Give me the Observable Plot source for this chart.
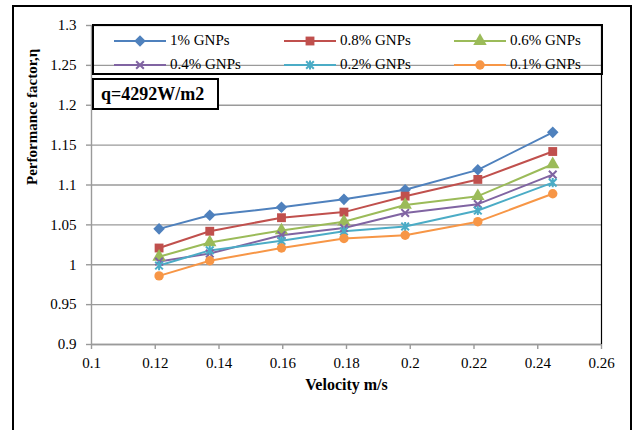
<!DOCTYPE html>
<html>
<head>
<meta charset="utf-8">
<script src="https://cdn.jsdelivr.net/npm/d3@7"></script>
<script src="https://cdn.jsdelivr.net/npm/@observablehq/plot@0.6"></script>
<style>
  html, body { margin: 0; padding: 0; background: #fff; overflow: hidden; }
  #wrap { position: relative; width: 633px; height: 430px; overflow: hidden; font-family: "Liberation Serif", "Times New Roman", serif; }
  #frame { position: absolute; left: 12px; top: 5px; width: 620px; height: 500px; border: 2px solid #000; box-sizing: border-box; pointer-events: none; }
  #legend { position: absolute; left: 92px; top: 24px; width: 511px; height: 51px; border: 2px solid #000; box-sizing: border-box; }
  .li { position: absolute; height: 16px; }
  .li svg { position: absolute; left: 0; top: 0; }
  .li span { position: absolute; top: -1px; font-size: 15px; white-space: nowrap; line-height: 16px; color: #000; font-family: "Liberation Serif", serif; }
  #qbox { position: absolute; left: 92px; top: 78px; width: 127px; height: 32px; border: 2px solid #000; box-sizing: border-box; background: #fff; font-weight: bold; font-size: 18px; line-height: 28px; padding-left: 7px; font-family: "Liberation Serif", serif; }
</style>
</head>
<body>
<div id="wrap"></div>
<script>
// ---- data ----
const velocity = [0.1212, 0.1371, 0.1596, 0.1792, 0.1984, 0.2212, 0.2447];
const seriesNames = ["1% GNPs", "0.8% GNPs", "0.6% GNPs", "0.4% GNPs", "0.2% GNPs", "0.1% GNPs"];
const gnp1  = [1.045, 1.062, 1.072, 1.082, 1.094, 1.119, 1.166];
const gnp08 = [1.021, 1.042, 1.059, 1.066, 1.086, 1.107, 1.142];
const gnp06 = [1.010, 1.028, 1.043, 1.054, 1.075, 1.086, 1.126];
const gnp04 = [1.004, 1.014, 1.037, 1.046, 1.065, 1.076, 1.113];
const gnp02 = [0.999, 1.018, 1.030, 1.042, 1.048, 1.068, 1.103];
const gnp01 = [0.986, 1.005, 1.021, 1.033, 1.037, 1.054, 1.089];
const seriesValues = [gnp1, gnp08, gnp06, gnp04, gnp02, gnp01];
const xTicks = [0.1, 0.12, 0.14, 0.16, 0.18, 0.2, 0.22, 0.24, 0.26];
const yTicks = [0.9, 0.95, 1, 1.05, 1.1, 1.15, 1.2, 1.25, 1.3];
const colors = ["#4F81BD", "#C0504D", "#9BBB59", "#8064A2", "#4BACC6", "#F79646"];
const annotation = "q=4292W/m2";
const xLabel = "Velocity m/s";
const yLabel = "Performance factor,η";

// ---- build ----
const data = seriesNames.flatMap((s, i) => velocity.map((v, j) => ({series: s, x: v, y: seriesValues[i][j]})));

const asterisk = {
  draw(ctx, size) {
    const r = Math.sqrt(size) * 0.45;
    ctx.moveTo(-r, -r); ctx.lineTo(r, r);
    ctx.moveTo(-r, r); ctx.lineTo(r, -r);
    ctx.moveTo(0, -r * 1.2); ctx.lineTo(0, r * 1.2);
  }
};
const timesSym = {
  draw(ctx, size) {
    const r = Math.sqrt(size) * 0.45;
    ctx.moveTo(-r, -r); ctx.lineTo(r, r);
    ctx.moveTo(-r, r); ctx.lineTo(r, -r);
  }
};
const symbols = [d3.symbolDiamond2, d3.symbolSquare, d3.symbolTriangle, timesSym, asterisk, d3.symbolCircle];
const filled = [true, true, true, false, false, true];
const rad = [5.2, 5, 5, 4.8, 4.8, 4.7];

const fmt = d => String(+d.toFixed(2));

const dotMarks = seriesNames.map((s, i) => Plot.dot(data.filter(d => d.series === s), {
  x: "x", y: "y", symbol: () => symbols[i], r: rad[i],
  fill: filled[i] ? colors[i] : "none",
  stroke: filled[i] ? "none" : colors[i],
  strokeWidth: filled[i] ? 0 : 2
}));

const chart = Plot.plot({
  width: 633, height: 430,
  marginTop: 25, marginRight: 32, marginBottom: 86, marginLeft: 91,
  style: {fontFamily: "'Liberation Serif', 'Times New Roman', serif", fontSize: "15px", color: "#000", background: "transparent", overflow: "visible"},
  x: {domain: [0.1, 0.26]},
  y: {domain: [0.9, 1.3]},
  symbol: {domain: seriesNames, range: symbols},
  marks: [
    Plot.gridY(yTicks, {stroke: "#9a9a9a", strokeOpacity: 1, strokeWidth: 1.4}),
    Plot.ruleX([0.26], {stroke: "#000", strokeWidth: 1.2}),
    Plot.axisY(yTicks, {tickSize: 5, tickPadding: 10, tickFormat: fmt, stroke: "#9a9a9a", strokeWidth: 1.4, label: null, fontSize: 15}),
    Plot.axisX(xTicks, {tickSize: 5, tickPadding: 8, tickFormat: fmt, stroke: "#9a9a9a", strokeWidth: 1.4, label: null, fontSize: 15}),
    Plot.ruleX([0.1], {stroke: "#9a9a9a", strokeWidth: 1.4}),
    Plot.ruleY([0.9], {stroke: "#9a9a9a", strokeWidth: 1.4}),
    Plot.text([xLabel], {frameAnchor: "bottom", dy: 45, fontWeight: "bold", fontSize: 16, fill: "#000"}),
    Plot.text([yLabel], {frameAnchor: "left", dx: -59, rotate: -90, fontWeight: "bold", fontSize: 15, fill: "#000"}),
    Plot.line(data, {x: "x", y: "y", z: "series", stroke: d => colors[seriesNames.indexOf(d.series)], strokeWidth: 2}),
    ...dotMarks
  ]
});

const wrap = document.getElementById("wrap");
wrap.appendChild(chart);

// frame
const frame = document.createElement("div"); frame.id = "frame"; wrap.appendChild(frame);

// legend
const legend = document.createElement("div"); legend.id = "legend"; wrap.appendChild(legend);
const colLeft = [19, 189, 359];   // relative to legend box
const rowTop = [7, 31];
seriesNames.forEach((s, i) => {
  const col = i % 3, row = Math.floor(i / 3);
  const item = document.createElement("div");
  item.className = "li";
  item.style.left = colLeft[col] + "px";
  item.style.top = rowTop[row] + "px";
  const svg = d3.create("svg").attr("width", 54).attr("height", 16);
  svg.append("line").attr("x1", 1).attr("x2", 53).attr("y1", 8).attr("y2", 8).attr("stroke", colors[i]).attr("stroke-width", 2);
  const size = Math.PI * rad[i] * rad[i];
  svg.append("path").attr("transform", "translate(27,8)")
    .attr("d", d3.symbol(symbols[i], size)())
    .attr("fill", filled[i] ? colors[i] : "none")
    .attr("stroke", filled[i] ? "none" : colors[i])
    .attr("stroke-width", 2);
  item.appendChild(svg.node());
  const span = document.createElement("span");
  span.style.left = "57px";
  span.textContent = s;
  item.appendChild(span);
  legend.appendChild(item);
});

// annotation
const q = document.createElement("div"); q.id = "qbox"; q.textContent = annotation; wrap.appendChild(q);
</script>
</body>
</html>
